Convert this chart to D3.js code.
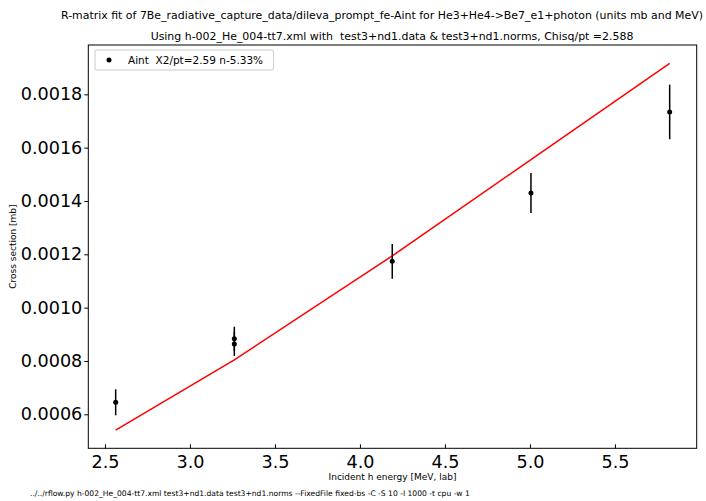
<!DOCTYPE html>
<html><head><meta charset="utf-8">
<script src="https://cdn.jsdelivr.net/npm/d3@7"></script>
<style>body{margin:0;background:#fff}svg{display:block;font-family:"DejaVu Sans",sans-serif}text{white-space:pre}</style>
</head><body>
<svg id="c" width="706" height="501"></svg>
<script>
const titleLines = ["R-matrix fit of 7Be_radiative_capture_data/dileva_prompt_fe-Aint for He3+He4->Be7_e1+photon (units mb and MeV)",
  "Using h-002_He_004-tt7.xml with  test3+nd1.data & test3+nd1.norms, Chisq/pt =2.588"];
const legendLabel = "Aint  X2/pt=2.59 n-5.33%";
const xLabel = "Incident h energy [MeV, lab]";
const yLabel = "Cross section [mb]";
const footer = "../../rflow.py h-002_He_004-tt7.xml test3+nd1.data test3+nd1.norms --FixedFile fixed-bs -C -S 10 -I 1000 -t cpu -w 1";

const dataE   = [2.563, 3.261, 3.261, 4.190, 5.006, 5.822];
const dataXS  = [0.000645, 0.0008835, 0.0008636, 0.0011737, 0.001430, 0.001734];
const dataErr = [0.0000488, 0.000045, 0.000045, 0.000065, 0.000075, 0.0001024];
const fitE  = [2.563, 3.261, 4.190, 5.006, 5.822];
const fitXS = [0.000541, 0.000804, 0.001194, 0.001555, 0.001916];
const xTicks = [2.5, 3.0, 3.5, 4.0, 4.5, 5.0, 5.5];
const yTicks = [0.0006, 0.0008, 0.0010, 0.0012, 0.0014, 0.0016, 0.0018];

const svg = d3.select("#c");
const L = 88.3, R = 696.7, T = 45, B = 448.3;
const x = d3.scaleLinear().domain([2.402, 5.981]).range([L, R]);
const y = d3.scaleLinear().domain([0.0004725, 0.001985]).range([B, T]);

// titles
svg.append("text").attr("x", 382).attr("y", 19).attr("text-anchor", "middle")
  .attr("font-size", 10.95).text(titleLines[0]);
svg.append("text").attr("x", 392).attr("y", 40).attr("text-anchor", "middle")
  .attr("font-size", 10.95).text(titleLines[1]);

// axes
const xa = svg.append("g").attr("transform", `translate(0,${B})`)
  .call(d3.axisBottom(x).tickValues(xTicks).tickFormat(d3.format(".1f")).tickSizeInner(-4).tickSizeOuter(0));
xa.select(".domain").remove();
xa.selectAll("text").attr("font-size", 17.6).attr("font-family", "DejaVu Sans").attr("fill", "#000").attr("dy", "0.71em").attr("y", 7);
xa.selectAll("line").attr("stroke", "#000");

const ya = svg.append("g").attr("transform", `translate(${L},0)`)
  .call(d3.axisLeft(y).tickValues(yTicks).tickFormat(d3.format(".4f")).tickSizeInner(4).tickSizeOuter(0));
ya.select(".domain").remove();
ya.selectAll("text").attr("font-size", 17.6).attr("font-family", "DejaVu Sans").attr("fill", "#000").attr("x", -6);
ya.selectAll("line").attr("stroke", "#000");

// frame
svg.append("rect").attr("x", L).attr("y", T).attr("width", R - L).attr("height", B - T)
  .attr("fill", "none").attr("stroke", "#000").attr("stroke-width", 1);

// fit line
svg.append("path").datum(fitE.map((e, i) => [e, fitXS[i]]))
  .attr("d", d3.line().x(d => x(d[0])).y(d => y(d[1])))
  .attr("fill", "none").attr("stroke", "#ff0000").attr("stroke-width", 1.5);

// data
const pts = dataE.map((e, i) => ({e, v: dataXS[i], err: dataErr[i]}));
svg.selectAll(".eb").data(pts).enter().append("line")
  .attr("x1", d => x(d.e)).attr("x2", d => x(d.e))
  .attr("y1", d => y(d.v - d.err)).attr("y2", d => y(d.v + d.err))
  .attr("stroke", "#000").attr("stroke-width", 1.5);
svg.selectAll(".pt").data(pts).enter().append("circle")
  .attr("cx", d => x(d.e)).attr("cy", d => y(d.v)).attr("r", 2.5).attr("fill", "#000");

// legend
svg.append("rect").attr("x", 95).attr("y", 50).attr("width", 178.7).attr("height", 20)
  .attr("rx", 2).attr("fill", "#fff").attr("stroke", "#ccc").attr("stroke-width", 1);
svg.append("circle").attr("cx", 109).attr("cy", 60).attr("r", 2.5).attr("fill", "#000");
svg.append("text").attr("x", 128).attr("y", 64).attr("font-size", 10.5).text(legendLabel);

// labels
svg.append("text").attr("x", (L + R) / 2).attr("y", 480).attr("text-anchor", "middle")
  .attr("font-size", 9).text(xLabel);
svg.append("text").attr("transform", `translate(16,${(T + B) / 2}) rotate(-90)`)
  .attr("text-anchor", "middle").attr("font-size", 9).text(yLabel);
svg.append("text").attr("x", 30).attr("y", 496).attr("font-size", 7.6).text(footer);
</script>
</body></html>
